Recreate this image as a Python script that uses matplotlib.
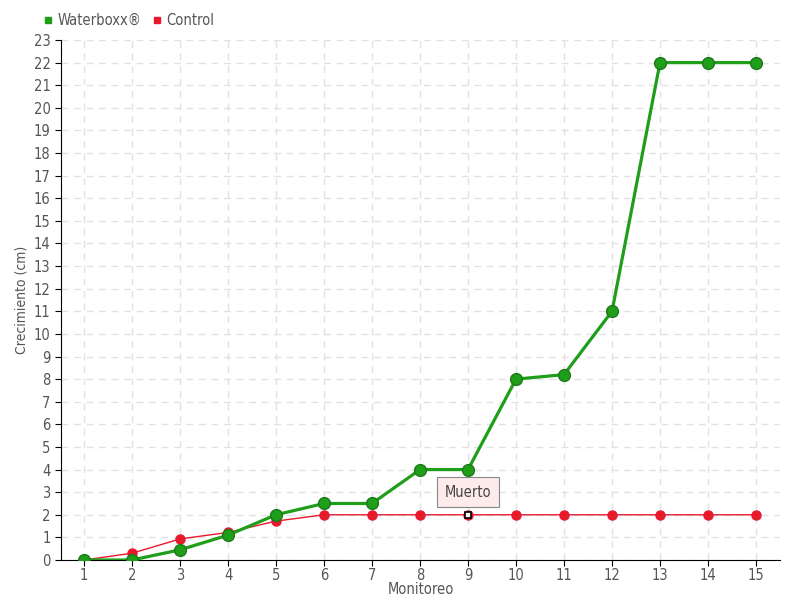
import matplotlib
matplotlib.use("Agg")
import matplotlib.pyplot as plt
from matplotlib.lines import Line2D

monitoreo = list(range(1, 16))
waterboxx = [0, 0, 0.45, 1.1, 2.0, 2.5, 2.5, 4.0, 4.0, 8.0, 8.2, 11.0, 22, 22, 22]
control = [0, 0.3, 0.93, 1.22, 1.72, 2, 2, 2, 2, 2, 2, 2, 2, 2, 2]
yticks = list(range(0, 24))
annot_idx = 8
annot_text = "Muerto"

plt.rcParams['font.family'] = ['DejaVu Sans', 'DejaVu Sans']
plt.rcParams['font.stretch'] = 'condensed'
fig = plt.figure(figsize=(8, 6), dpi=100)
ax = fig.add_axes([61/800, 40/600, 719/800, 520/600])

green = '#1f9e1a'
red = '#e8192c'
ax.plot(monitoreo, control, color=red, lw=1, marker='o', ms=6.5, mfc=red, mec=red, zorder=3)
ax.plot(monitoreo, waterboxx, color=green, lw=2.3, marker='o', ms=8.5, mfc=green, mec='#1c7a1a', mew=1, zorder=4)
ax.plot([monitoreo[annot_idx]], [control[annot_idx]], marker='s', ms=5, mfc='white', mec='black', mew=1.2, zorder=6, ls='none')

ax.annotate(annot_text, xy=(monitoreo[annot_idx], control[annot_idx]), xytext=(0, 11), textcoords='offset points',
            ha='center', va='bottom', fontsize=10.5, color='#444444',
            bbox=dict(boxstyle='square,pad=0.5', fc='#fdeaea', ec='#888888', lw=0.8), zorder=7)

ax.set_xlim(0.52, 15.5)
ax.set_ylim(0, 23)
ax.set_xticks(monitoreo)
ax.set_yticks(yticks)
ax.grid(True, color='#e2e2e2', ls=(0, (5, 4)), lw=1)
ax.set_axisbelow(True)
for s in ['top', 'right']:
    ax.spines[s].set_visible(False)
ax.spines['left'].set_color('black')
ax.spines['bottom'].set_color('black')
ax.tick_params(axis='both', colors='#555555', labelsize=10.5, length=4, color='black')
ax.tick_params(axis='x', pad=2)
ax.set_xlabel('Monitoreo', fontsize=10.5, color='#555555', labelpad=-1)
ax.set_ylabel('Crecimiento (cm)', fontsize=10, color='#555555', labelpad=4)

handles = [Line2D([], [], marker='s', ls='none', color=green, ms=5),
           Line2D([], [], marker='s', ls='none', color=red, ms=5)]
leg = fig.legend(handles, ['Waterboxx®', 'Control'], loc='upper left', bbox_to_anchor=(44/800, 1 - 13/600),
                 ncol=2, frameon=False, fontsize=10.5, handlelength=0.6, handletextpad=0.3, columnspacing=0.8,
                 borderaxespad=0, borderpad=0)
for t in leg.get_texts():
    t.set_color('#555555')

fig.savefig('out.png', dpi=100)
